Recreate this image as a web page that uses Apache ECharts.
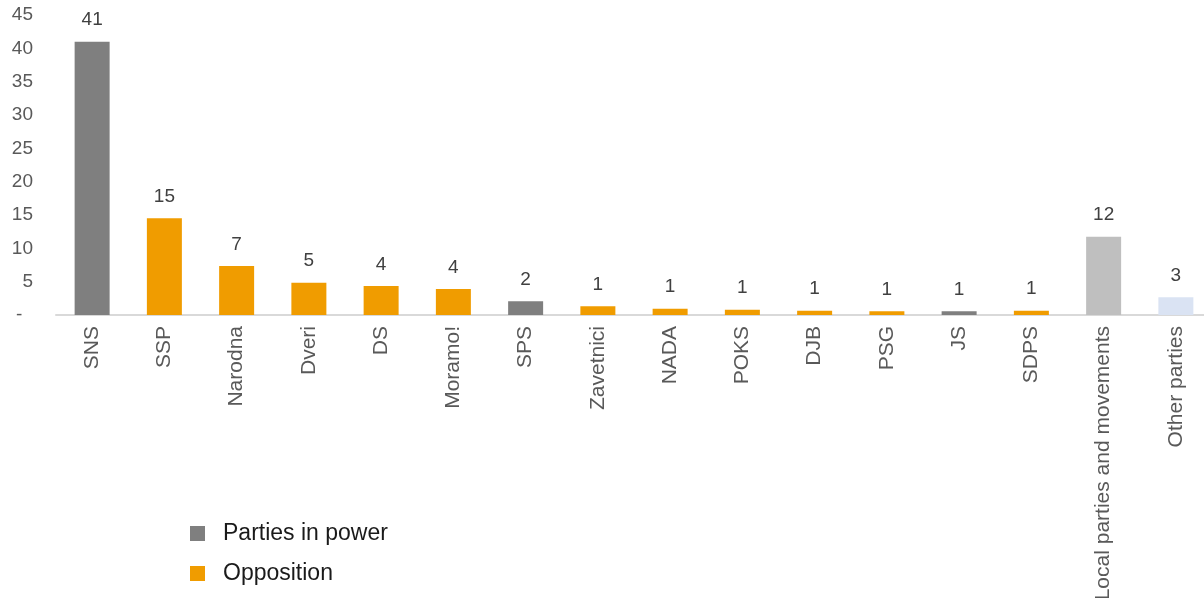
<!DOCTYPE html>
<html>
<head>
<meta charset="utf-8">
<script src="https://cdn.jsdelivr.net/npm/echarts@6/dist/echarts.min.js"></script>
<style>
html,body{margin:0;padding:0;background:#fff;}
#c{width:1204px;height:598px;}
</style>
</head>
<body>
<div id="c"></div>
<script>
const categories = ["SNS","SSP","Narodna","Dveri","DS","Moramo!","SPS","Zavetnici","NADA","POKS","DJB","PSG","JS","SDPS","Local parties and movements","Other parties"];
const values = [41.0, 14.5, 7.35, 4.85, 4.35, 3.9, 2.05, 1.3, 0.95, 0.8, 0.65, 0.55, 0.55, 0.65, 11.75, 2.65];
const groups = ["power","opposition","opposition","opposition","opposition","opposition","power","opposition","opposition","opposition","opposition","opposition","power","opposition","local","other"];
const yTicks = {min: 0, max: 45, interval: 5};

const colors = {power: "#7f7f7f", opposition: "#f09c00", local: "#bfbfbf", other: "#dae3f3"};
const label = {
  show: true, position: "top", distance: 12,
  fontFamily: "Liberation Sans", fontSize: 19, color: "#404040",
  formatter: p => Math.round(p.value)
};
function pick(g){ return values.map((v,i)=> groups[i]===g ? v : '-'); }

const chart = echarts.init(document.getElementById('c'));
chart.setOption({
  animation: false,
  textStyle: {fontFamily: "Liberation Sans"},
  grid: {left: 56, width: 1156, top: 15, bottom: 283, containLabel: false, outerBoundsMode: 'none'},
  legend: {
    data: ["Parties in power", "Opposition"],
    orient: "vertical", left: 185, top: 517, itemGap: 17,
    icon: "rect", itemWidth: 15, itemHeight: 15,
    textStyle: {fontSize: 23, lineHeight: 22, color: "#1a1a1a", fontFamily: "Liberation Sans", padding: [0,0,0,13]}
  },
  xAxis: {
    type: "category", data: categories,
    axisLine: {lineStyle: {color: "#d9d9d9", width: 2}},
    axisTick: {show: false},
    axisLabel: {rotate: 90, interval: 0, fontSize: 21, color: "#595959", margin: 11}
  },
  yAxis: {
    type: "value", min: yTicks.min, max: yTicks.max, interval: yTicks.interval,
    splitLine: {show: false}, axisLine: {show: false}, axisTick: {show: false},
    axisLabel: {fontSize: 19, color: "#595959", margin: 23,
      formatter: v => v === 0 ? "-  " : String(v)}
  },
  series: [
    {name: "Parties in power", type: "bar", stack: "a", barWidth: 35, data: pick("power"),
     itemStyle: {color: colors.power}, label: label},
    {name: "Opposition", type: "bar", stack: "a", barWidth: 35, data: pick("opposition"),
     itemStyle: {color: colors.opposition}, label: label},
    {name: "Local", type: "bar", stack: "a", barWidth: 35, data: pick("local"),
     itemStyle: {color: colors.local}, label: label},
    {name: "Other", type: "bar", stack: "a", barWidth: 35, data: pick("other"),
     itemStyle: {color: colors.other}, label: label}
  ]
});
</script>
</body>
</html>
